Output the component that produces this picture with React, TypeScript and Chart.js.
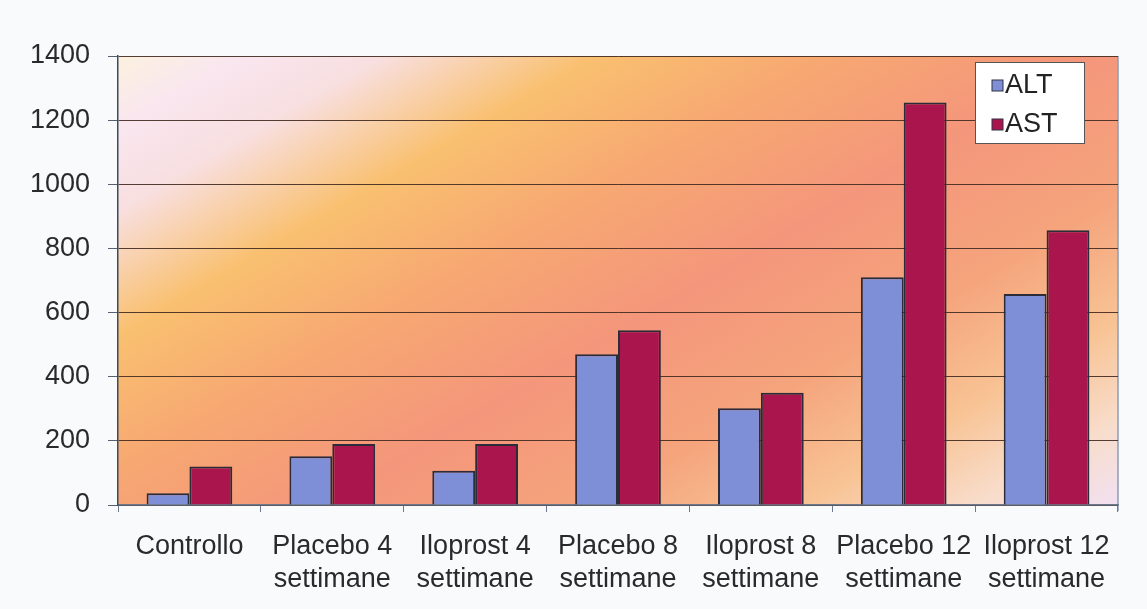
import React, { useEffect, useRef } from "react";
import { Chart, registerables } from "chart.js";

Chart.register(...registerables);

const categories: string[][] = [
  ["Controllo"],
  ["Placebo 4", "settimane"],
  ["Iloprost 4", "settimane"],
  ["Placebo 8", "settimane"],
  ["Iloprost 8", "settimane"],
  ["Placebo 12", "settimane"],
  ["Iloprost 12", "settimane"],
];
const seriesNames = ["ALT", "AST"];
const altValues = [37, 152, 107, 470, 302, 710, 658];
const astValues = [120, 190, 190, 545, 350, 1255, 857];
const yMin = 0;
const yMax = 1400;
const yStep = 200;

const FONT = "'Liberation Sans', Arial, sans-serif";
const ALT_COLOR = "#7e8fd8";
const AST_COLOR = "#a9154c";

const backgroundPlugin = {
  id: "bgGradient",
  beforeDraw(chart: any) {
    const { ctx, chartArea, width, height } = chart;
    ctx.save();
    ctx.fillStyle = "#f9fafb";
    ctx.fillRect(0, 0, width, height);
    const { left, top, right, bottom } = chartArea;
    const w = right - left;
    const h = bottom - top;
    const vx = w * 0.194;
    const vy = h * 0.739;
    const s = (w * vx + h * vy) / (vx * vx + vy * vy);
    const g = ctx.createLinearGradient(left, top, left + vx * s, top + vy * s);
    g.addColorStop(0, "#fcf1df");
    g.addColorStop(0.07, "#f9e6ef");
    g.addColorStop(0.15, "#f8dfe0");
    g.addColorStop(0.27, "#f9c070");
    g.addColorStop(0.4, "#f7a872");
    g.addColorStop(0.55, "#f4967b");
    g.addColorStop(0.7, "#f5a47c");
    g.addColorStop(0.82, "#f8c394");
    g.addColorStop(0.92, "#f8ddcc");
    g.addColorStop(1, "#f1e0f1");
    ctx.fillStyle = g;
    ctx.fillRect(left, top, w, h);
    ctx.strokeStyle = "#8d9db3";
    ctx.lineWidth = 1.5;
    ctx.beginPath();
    ctx.moveTo(right, top);
    ctx.lineTo(right, bottom + 6);
    ctx.stroke();
    ctx.restore();
  },
};

const legendPlugin = {
  id: "boxLegend",
  afterDraw(chart: any) {
    const { ctx, chartArea } = chart;
    const bw = 109;
    const bh = 81;
    const bx = chartArea.right - 34 - bw;
    const by = chartArea.top + 6;
    ctx.save();
    ctx.fillStyle = "#ffffff";
    ctx.fillRect(bx, by, bw, bh);
    ctx.strokeStyle = "#555555";
    ctx.lineWidth = 1;
    ctx.strokeRect(bx + 0.5, by + 0.5, bw, bh);
    ctx.font = `27px ${FONT}`;
    ctx.textBaseline = "middle";
    ctx.textAlign = "left";
    chart.data.datasets.forEach((ds: any, i: number) => {
      const cy = by + 23 + i * 39;
      ctx.fillStyle = ds.backgroundColor;
      ctx.fillRect(bx + 17, cy - 5, 11, 11);
      ctx.strokeStyle = "#333344";
      ctx.strokeRect(bx + 17, cy - 5, 11, 11);
      ctx.fillStyle = "#222222";
      ctx.fillText(ds.label, bx + 30, cy + 1);
    });
    ctx.restore();
  },
};

export default function App() {
  const ref = useRef<HTMLCanvasElement | null>(null);
  useEffect(() => {
    document.body.style.margin = "0";
    if (!ref.current) return;
    const chart = new Chart(ref.current, {
      type: "bar",
      data: {
        labels: categories,
        datasets: [
          {
            label: seriesNames[0],
            data: altValues,
            backgroundColor: ALT_COLOR,
            borderColor: "#2b2b3a",
            borderWidth: 2,
            barPercentage: 1.0,
            categoryPercentage: 0.6,
          },
          {
            label: seriesNames[1],
            data: astValues,
            backgroundColor: AST_COLOR,
            borderColor: "#2b2b3a",
            borderWidth: 2,
            barPercentage: 1.0,
            categoryPercentage: 0.6,
          },
        ],
      },
      options: {
        animation: false,
        responsive: false,
        maintainAspectRatio: false,
        layout: { padding: { top: 56, right: 29, left: 0, bottom: 0 } },
        plugins: {
          legend: { display: false },
          tooltip: { enabled: false },
          title: { display: false },
        },
        scales: {
          x: {
            afterFit(scale: any) {
              scale.height = 104;
            },
            grid: {
              drawOnChartArea: false,
              drawTicks: true,
              tickLength: 7,
              color: "#6a7a8c",
              offset: true,
            },
            border: { display: true, color: "#6a7a8c", width: 1.5 },
            ticks: {
              color: "#2a2a2a",
              padding: 18,
              maxRotation: 0,
              autoSkip: false,
              font: { family: FONT, size: 27, lineHeight: 1.22 },
            },
          },
          y: {
            min: yMin,
            max: yMax,
            afterFit(scale: any) {
              scale.width = 118;
            },
            grid: {
              color: "rgba(65,42,32,0.9)",
              lineWidth: 1,
              drawTicks: true,
              tickLength: 10,
              tickColor: "#556070",
            },
            border: { display: true, color: "#3b4a5c", width: 1.5 },
            ticks: {
              stepSize: yStep,
              color: "#2a2a2a",
              padding: 18,
              font: { family: FONT, size: 27 },
              callback: (v: any) => String(v),
            },
          },
        },
      },
      plugins: [backgroundPlugin, legendPlugin],
    });
    return () => chart.destroy();
  }, []);
  return (
    <div style={{ width: 1147, height: 609 }}>
      <canvas ref={ref} width={1147} height={609} style={{ display: "block" }} />
    </div>
  );
}
